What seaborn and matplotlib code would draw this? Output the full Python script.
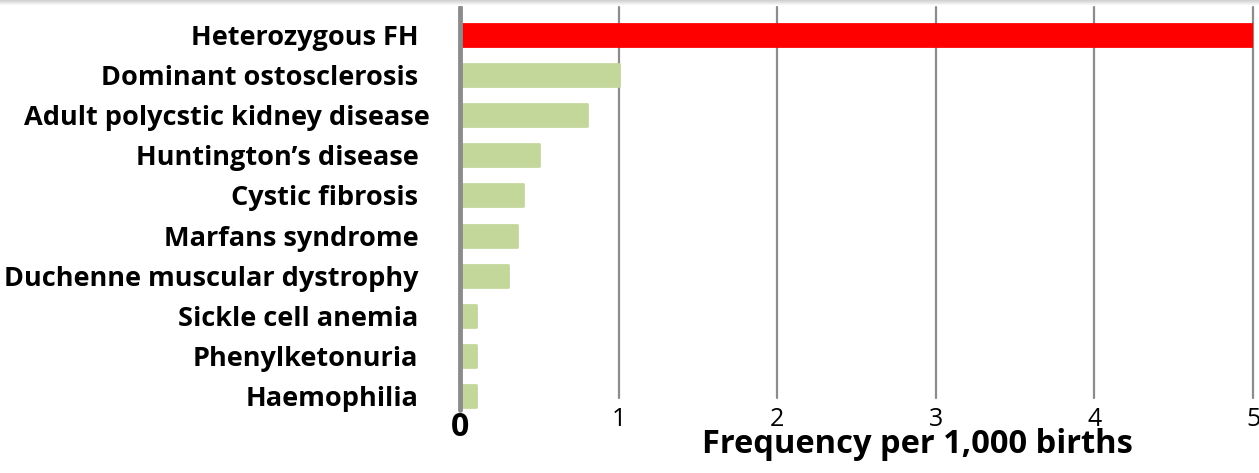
import numpy as np
import pandas as pd
import matplotlib
matplotlib.use("Agg")
import matplotlib.pyplot as plt
import matplotlib.transforms as mtrans
import seaborn as sns

diseases = [
    "Heterozygous FH",
    "Dominant ostosclerosis",
    "Adult polycstic kidney disease",
    "Huntington\u2019s disease",
    "Cystic fibrosis",
    "Marfans syndrome",
    "Duchenne muscular dystrophy",
    "Sickle cell anemia",
    "Phenylketonuria",
    "Haemophilia",
]
frequency = [5.0, 1.0, 0.8, 0.5, 0.4, 0.36, 0.3, 0.1, 0.1, 0.1]
highlight = ["FH", "other", "other", "other", "other", "other", "other", "other", "other", "other"]
x_ticks = [0, 1, 2, 3, 4, 5]
x_label = "Frequency per 1,000 births"

sns.set_style("white")
plt.rcParams["font.family"] = ["Open Sans", "DejaVu Sans"]
plt.rcParams["text.color"] = "black"
plt.rcParams["xtick.color"] = "black"
plt.rcParams["ytick.color"] = "black"
plt.rcParams["axes.labelcolor"] = "black"

df = pd.DataFrame({"disease": diseases, "freq": frequency, "group": highlight})
palette = {"FH": "#FF0000", "other": "#C4D79B"}

fig = plt.figure(figsize=(12.59, 4.73), dpi=100)
ax = fig.add_axes([460 / 1259, 1 - 410 / 473, (1253 - 460) / 1259, (410 - 7) / 473])

sns.barplot(data=df, x="freq", y="disease", hue="group", palette=palette, saturation=1,
            orient="h", width=0.55, dodge=False, legend=False, ax=ax, zorder=3)
for p in ax.patches:
    p.set_edgecolor(p.get_facecolor())
    p.set_linewidth(2.0)
    p.set_joinstyle("round")

ax.set_xlim(0, 5)
ax.set_ylim(len(diseases) - 1 + 0.35, -0.7)

# vertical gridlines
for t in x_ticks[1:]:
    ax.axvline(t, ymin=(410 - 398) / 403, ymax=1, color="#8C8C8C", lw=1.6, zorder=1, clip_on=False)
ax.axvline(0, color="#8C8C8C", lw=3.5, zorder=4, clip_on=False)

for s in ax.spines.values():
    s.set_visible(False)

ax.set_xticks(x_ticks)
ax.set_xticklabels([str(t) for t in x_ticks])
ax.tick_params(axis="x", length=0, pad=-2, labelsize=18)
ax.tick_params(axis="y", length=0, pad=30)
for lbl in ax.get_xticklabels():
    if lbl.get_text() == "0":
        lbl.set_fontsize(23)
        lbl.set_fontweight("bold")
        lbl.set_transform(lbl.get_transform() + mtrans.ScaledTranslation(0, -0.04, fig.dpi_scale_trans))
for lbl in ax.get_yticklabels():
    lbl.set_fontsize(19.5)
    lbl.set_fontweight("bold")
    if lbl.get_text().startswith("Adult"):
        lbl.set_transform(lbl.get_transform() + mtrans.ScaledTranslation(0.11, 0, fig.dpi_scale_trans))

ax.set_ylabel("")
ax.set_xlabel(x_label, fontsize=23.5, fontweight="bold")
ax.xaxis.set_label_coords((917 - 460) / (1253 - 460), -(453 - 410) / 403)
ax.xaxis.label.set_verticalalignment("baseline")

# top shadow strip
sh = fig.add_axes([0, 1 - 6 / 473, 1, 6 / 473])
grad = np.linspace(0.82, 1.0, 6).reshape(-1, 1)
sh.imshow(grad, cmap="gray", vmin=0, vmax=1, aspect="auto")
sh.axis("off")

fig.savefig("out.png", dpi=100)
